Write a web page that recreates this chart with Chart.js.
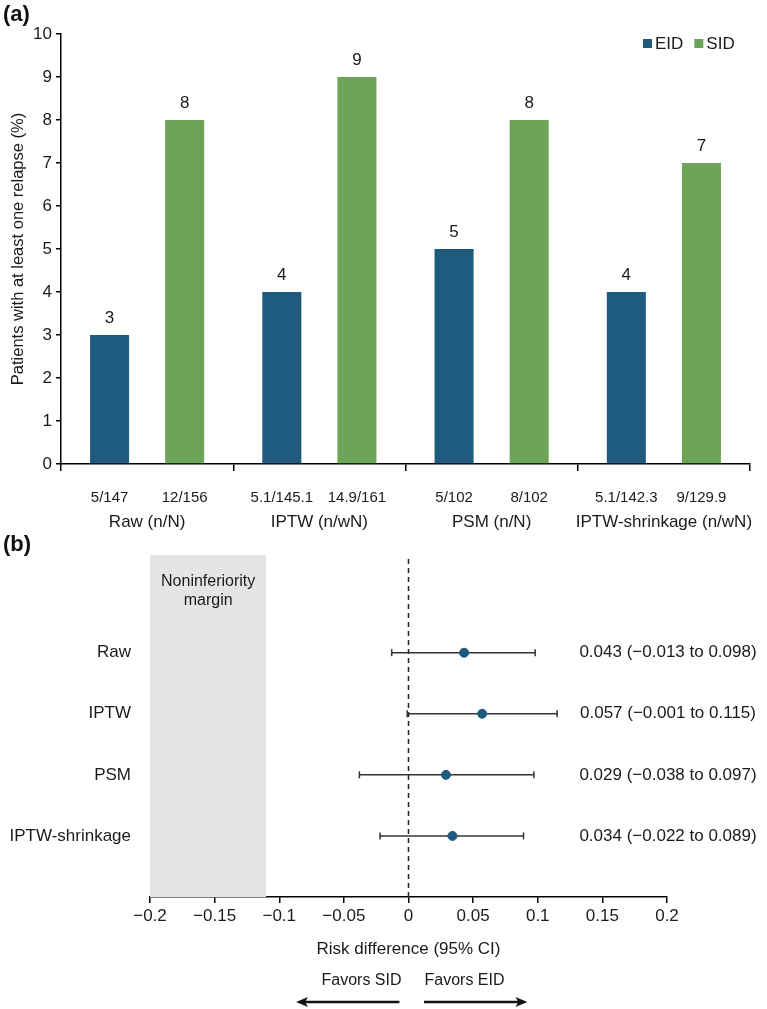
<!DOCTYPE html>
<html lang="en">
<head>
<meta charset="UTF-8">
<title>Relapse rates and risk difference</title>
<script src="https://cdn.jsdelivr.net/npm/chart.js@4"></script>
<style>
  body { margin: 0; background: #fff; font-family: 'Liberation Sans', Arial, sans-serif; }
  .page { position: relative; width: 767px; height: 1009px; overflow: hidden; }
  .panel-tag { position: absolute; left: 3px; font-weight: bold; font-size: 22px; color: #111; }
  canvas { position: absolute; left: 0; }
</style>
</head>
<body>
<div class="page">
  <canvas id="barChart" width="767" height="540" style="top:0"></canvas>
  <canvas id="forestChart" width="767" height="469" style="top:540px"></canvas>
  <div class="panel-tag" style="top:1px">(a)</div>
  <div class="panel-tag" style="top:531px">(b)</div>
</div>
<script>
// panel (a) data
const groups = ['Raw (n/N)', 'IPTW (n/wN)', 'PSM (n/N)', 'IPTW-shrinkage (n/wN)'];
const eidPct = [3, 4, 5, 4];
const sidPct = [8, 9, 8, 7];
const eidCounts = ['5/147', '5.1/145.1', '5/102', '5.1/142.3'];
const sidCounts = ['12/156', '14.9/161', '8/102', '9/129.9'];

// panel (b) data
const methods = ['Raw', 'IPTW', 'PSM', 'IPTW-shrinkage'];
const rdEst = [0.043, 0.057, 0.029, 0.034];
const rdLow = [-0.013, -0.001, -0.038, -0.022];
const rdHigh = [0.098, 0.115, 0.097, 0.089];
const marginRange = [-0.2, -0.11];

const FONT = "'Liberation Sans', Arial, sans-serif";
const EID_COLOR = '#1E5B7F';
const SID_COLOR = '#6CA556';
const INK = '#1a1a1a';

Chart.defaults.font.family = FONT;
Chart.defaults.color = INK;

// ---------- (a) bar chart ----------
const barExtras = {
  id: 'barExtras',
  afterDatasetsDraw(chart) {
    const ctx = chart.ctx;
    const bottom = chart.chartArea.bottom;
    const countSets = [eidCounts, sidCounts];
    ctx.save();
    ctx.textAlign = 'center';
    ctx.textBaseline = 'middle';
    ctx.fillStyle = INK;
    chart.data.datasets.forEach((ds, i) => {
      chart.getDatasetMeta(i).data.forEach((bar, j) => {
        ctx.font = '17px ' + FONT;
        ctx.fillText(String(ds.data[j]), bar.x, bar.y - 17);
        ctx.font = '15px ' + FONT;
        ctx.fillText(countSets[i][j], bar.x, bottom + 34);
      });
    });
    ctx.font = '17px ' + FONT;
    chart.data.labels.forEach((lab, j) => {
      ctx.fillText(lab, chart.scales.x.getPixelForValue(j), bottom + 58);
    });
    // legend
    let x = 643;
    const y = 44;
    ctx.textAlign = 'left';
    chart.data.datasets.forEach(ds => {
      ctx.fillStyle = ds.backgroundColor;
      ctx.fillRect(x, y - 5, 9, 9);
      ctx.fillStyle = INK;
      ctx.fillText(ds.label, x + 12, y);
      x += 12 + ctx.measureText(ds.label).width + 11;
    });
    ctx.restore();
  }
};

new Chart(document.getElementById('barChart'), {
  type: 'bar',
  data: {
    labels: groups,
    datasets: [
      { label: 'EID', data: eidPct, backgroundColor: EID_COLOR },
      { label: 'SID', data: sidPct, backgroundColor: SID_COLOR }
    ]
  },
  options: {
    responsive: false,
    animation: false,
    events: [],
    categoryPercentage: 0.872,
    barPercentage: 0.52,
    layout: { padding: { top: 34, right: 17, left: 0, bottom: 0 } },
    plugins: { legend: { display: false }, tooltip: { enabled: false } },
    scales: {
      x: {
        grid: { offset: true, drawOnChartArea: false, color: '#000', lineWidth: 1.5, tickLength: 7 },
        border: { color: '#000', width: 1.5 },
        ticks: { display: false },
        afterFit: s => { s.height = 76; }
      },
      y: {
        min: 0,
        max: 10,
        ticks: { stepSize: 1, padding: 4, font: { size: 17 }, color: INK },
        grid: { drawOnChartArea: false, color: '#000', lineWidth: 1.5, tickLength: 5 },
        border: { color: '#000', width: 1.5 },
        title: {
          display: true,
          text: 'Patients with at least one relapse (%)',
          font: { size: 16.5 },
          color: INK,
          padding: { top: 9, bottom: 0 }
        },
        afterFit: s => { s.width = 61; }
      }
    }
  },
  plugins: [barExtras]
});

// ---------- (b) forest plot ----------
const rowOf = i => methods.length - i;
const fmt = v => v.toFixed(3).replace('-', '\u2212');

const forestExtras = {
  id: 'forestExtras',
  afterDatasetsDraw(chart) {
    const { ctx, chartArea, scales: { x, y } } = chart;
    ctx.save();
    ctx.fillStyle = INK;
    ctx.textAlign = 'center';
    ctx.textBaseline = 'middle';

    // margin caption
    ctx.font = '16px ' + FONT;
    const mx = x.getPixelForValue((marginRange[0] + marginRange[1]) / 2);
    ctx.fillText('Noninferiority', mx, chartArea.top + 27);
    ctx.fillText('margin', mx, chartArea.top + 46);

    // estimate text
    ctx.font = '17px ' + FONT;
    methods.forEach((m, i) => {
      const txt = fmt(rdEst[i]) + ' (' + fmt(rdLow[i]) + ' to ' + fmt(rdHigh[i]) + ')';
      ctx.fillText(txt, chartArea.right + 1, y.getPixelForValue(rowOf(i)));
    });

    // favors arrows
    const base = x.bottom;
    const x0 = x.getPixelForValue(0);
    ctx.font = '16px ' + FONT;
    ctx.fillText('Favors SID', x0 - 47, base + 21);
    ctx.fillText('Favors EID', x0 + 56, base + 21);
    const arrow = (from, to, yy) => {
      const dir = Math.sign(to - from);
      ctx.strokeStyle = '#111';
      ctx.fillStyle = '#111';
      ctx.lineWidth = 2.5;
      ctx.beginPath();
      ctx.moveTo(from, yy);
      ctx.lineTo(to - dir * 8, yy);
      ctx.stroke();
      ctx.beginPath();
      ctx.moveTo(to, yy);
      ctx.lineTo(to - dir * 12, yy - 5);
      ctx.lineTo(to - dir * 9, yy);
      ctx.lineTo(to - dir * 12, yy + 5);
      ctx.closePath();
      ctx.fill();
    };
    arrow(x.getPixelForValue(-0.007), x.getPixelForValue(-0.087), base + 42);
    arrow(x.getPixelForValue(0.012), x.getPixelForValue(0.092), base + 42);
    ctx.restore();
  }
};

const ciSets = methods.map((m, i) => ({
  type: 'line',
  label: m + ' CI',
  data: [{ x: rdLow[i], y: rowOf(i) }, { x: rdHigh[i], y: rowOf(i) }],
  borderColor: '#333',
  borderWidth: 1.5,
  pointStyle: 'line',
  rotation: 90,
  pointRadius: 3.5,
  pointBorderColor: '#333',
  pointBorderWidth: 1.5,
  showLine: true,
  order: 2
}));

new Chart(document.getElementById('forestChart'), {
  type: 'scatter',
  data: {
    datasets: [
      {
        label: 'Estimate',
        data: methods.map((m, i) => ({ x: rdEst[i], y: rowOf(i) })),
        backgroundColor: EID_COLOR,
        borderColor: EID_COLOR,
        pointRadius: 4.5,
        order: 1
      },
      ...ciSets,
      {
        type: 'line',
        label: 'zero',
        data: [{ x: 0, y: 0 }, { x: 0, y: 5.6 }],
        borderColor: '#222',
        borderWidth: 1.5,
        borderDash: [5, 4],
        pointRadius: 0,
        order: 3
      },
      {
        type: 'line',
        label: 'margin',
        data: [{ x: marginRange[0], y: 5.6 }, { x: marginRange[1], y: 5.6 }],
        borderWidth: 0,
        borderColor: 'rgba(0,0,0,0)',
        backgroundColor: '#E6E5E3',
        fill: 'start',
        pointRadius: 0,
        order: 9
      }
    ]
  },
  options: {
    responsive: false,
    animation: false,
    events: [],
    layout: { padding: { top: 15, right: 100, left: 0, bottom: 49 } },
    plugins: { legend: { display: false }, tooltip: { enabled: false } },
    scales: {
      x: {
        type: 'linear',
        min: -0.2,
        max: 0.2,
        ticks: {
          stepSize: 0.05,
          padding: 3,
          font: { size: 17 },
          color: INK,
          callback: v => {
            const r = Math.round(v * 100) / 100;
            return r === 0 ? '0' : String(r).replace('-', '\u2212');
          }
        },
        grid: { drawOnChartArea: false, color: '#000', lineWidth: 1.5, tickLength: 6 },
        border: { color: '#000', width: 1.5 },
        title: {
          display: true,
          text: 'Risk difference (95% CI)',
          font: { size: 17 },
          color: INK,
          padding: { top: 0, bottom: 0 }
        },
        afterFit: s => { s.height = 63; }
      },
      y: {
        type: 'linear',
        min: 0,
        max: 5.6,
        afterBuildTicks: s => { s.ticks = methods.map((m, i) => ({ value: rowOf(i) })); },
        ticks: {
          padding: 19,
          font: { size: 17 },
          color: INK,
          callback: v => methods[methods.length - v]
        },
        grid: { display: false, drawTicks: false },
        border: { display: false },
        afterFit: s => { s.width = 150; s.paddingTop = 0; s.paddingBottom = 0; }
      }
    }
  },
  plugins: [forestExtras]
});
</script>
</body>
</html>
